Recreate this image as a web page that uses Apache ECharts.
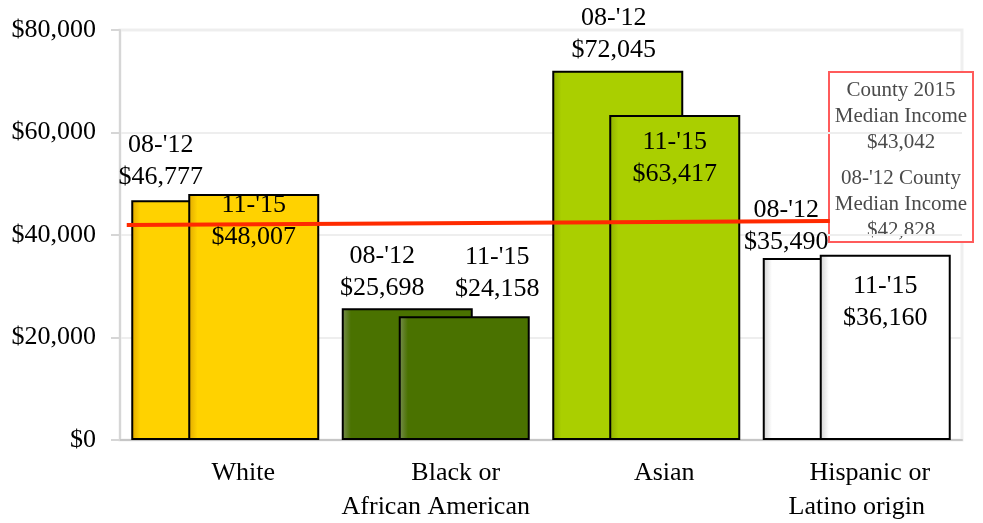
<!DOCTYPE html>
<html>
<head>
<meta charset="utf-8">
<script src="https://cdn.jsdelivr.net/npm/echarts@6/dist/echarts.min.js"></script>
<style>html,body{margin:0;padding:0;background:#fff}#c{width:983px;height:523px}</style>
</head>
<body>
<div id="c"></div>
<script>
const categories = ['White', 'Black or\nAfrican American', 'Asian', 'Hispanic or\nLatino origin'];
const seriesNames = ["08-'12", "11-'15"];
const income0812 = [46777, 25698, 72045, 35490];
const income1115 = [48007, 24158, 63417, 36160];
const yTicks = [0, 20000, 40000, 60000, 80000];
const countyLine = [[0.008, 41950], [0.843, 42730]];
const legendLines1 = ['County 2015', 'Median Income', '$43,042'];
const legendLines2 = ["08-'12 County", 'Median Income', '$42,828'];

const FONT = '"Liberation Serif", "Times New Roman", serif';
const FS = 26;
const barColors = ['#FFD200', '#4A7200', '#AACF00', '#FFFFFF'];
const edgeColors = ['#E0A800', '#7A8F55', '#8FB000', '#CFCFCF'];
const fmt = v => '$' + v.toLocaleString('en-US');

function fill(i) {
  return {
    type: 'linear', x: 0, y: 0, x2: 1, y2: 0,
    colorStops: [
      { offset: 0, color: edgeColors[i] },
      { offset: 0.07, color: barColors[i] },
      { offset: 1, color: barColors[i] }
    ]
  };
}
// label placement per bar (layout only)
const labA = [
  { position: 'top', distance: 7, offset: [-36, 0] },
  { position: 'top', distance: 4, offset: [-25, 0] },
  { position: 'top', distance: 5, offset: [-4, 0] },
  { position: 'top', distance: 0, offset: [-42, 0] }
];
const labB = [
  { position: 'insideTop', distance: 0, offset: [0, -5] },
  { position: 'top', distance: 11, offset: [33, 0] },
  { position: 'insideTop', distance: 11, offset: [0, 0] },
  { position: 'insideTop', distance: 15, offset: [0, 0] }
];
const catPad = [[36], [40, 0], [36], [26, 0]];

function items(vals, labs) {
  return vals.map((v, i) => ({
    value: v,
    itemStyle: { color: fill(i) },
    label: labs[i]
  }));
}
const labelBase = {
  show: true, fontFamily: FONT, fontSize: FS, lineHeight: 32, color: '#000',
  formatter: p => p.seriesName + '\n' + fmt(p.value)
};
const rich = {};
[0, 26, 36, 40].forEach(p => {
  rich['p' + p] = { fontFamily: FONT, fontSize: FS, lineHeight: 34, color: '#000', padding: [0, 0, 0, p] };
});

const chart = echarts.init(document.getElementById('c'), null, { renderer: 'canvas' });
chart.setOption({
  animation: false,
  backgroundColor: '#fff',
  grid: { left: 120, right: 21, top: 30, bottom: 83, show: true, borderColor: '#efefef', borderWidth: 3, backgroundColor: 'transparent' },
  xAxis: [
    {
      type: 'category', data: categories,
      axisLine: { lineStyle: { color: '#c6c6c6', width: 2 } },
      axisTick: { show: false },
      axisLabel: {
        margin: 16, interval: 0,
        formatter: (v, idx) => v.split('\n').map((l, k) => '{p' + catPad[idx][k] + '|' + l + '}').join('\n'),
        rich: rich
      }
    },
    { type: 'value', min: 0, max: 1, show: false }
  ],
  yAxis: {
    type: 'value', min: yTicks[0], max: yTicks[yTicks.length - 1], interval: yTicks[1] - yTicks[0],
    axisLine: { show: true, lineStyle: { color: '#d6d6d6', width: 2 } },
    axisTick: { show: true, length: 9, lineStyle: { color: '#d6d6d6', width: 2 } },
    splitLine: { lineStyle: { color: '#eeeeee', width: 2 } },
    axisLabel: { fontFamily: FONT, fontSize: FS, color: '#000', margin: 24, formatter: fmt }
  },
  series: [
    {
      name: seriesNames[0], type: 'bar', data: items(income0812, labA),
      barWidth: 131, barGap: '-56.5%',
      itemStyle: { borderColor: '#000', borderWidth: 2 },
      label: labelBase, z: 2
    },
    {
      name: seriesNames[1], type: 'bar', data: items(income1115, labB),
      barWidth: 131, barGap: '-56.5%',
      itemStyle: { borderColor: '#000', borderWidth: 2 },
      label: labelBase, z: 3
    },
    {
      name: 'County median', type: 'line', xAxisIndex: 1, data: countyLine,
      symbol: 'none', lineStyle: { color: '#FF2A00', width: 4 }, z: 5, silent: true
    }
  ],
  graphic: [
    {
      type: 'group', z: 100,
      children: [
        { type: 'rect', shape: { x: 829, y: 72, width: 144, height: 170 },
          style: { fill: '#fff', stroke: '#FF5B5B', lineWidth: 2 } },
        { type: 'text', x: 901, y: 77,
          style: { text: legendLines1.join('\n'), font: '21px ' + FONT, fill: '#4a4a4a', align: 'center', verticalAlign: 'top', lineHeight: 26 } },
        { type: 'text', x: 901, y: 165,
          style: { text: legendLines2.join('\n'), font: '21px ' + FONT, fill: '#4a4a4a', align: 'center', verticalAlign: 'top', lineHeight: 26 } }
      ]
    }
  ]
});
</script>
</body>
</html>
